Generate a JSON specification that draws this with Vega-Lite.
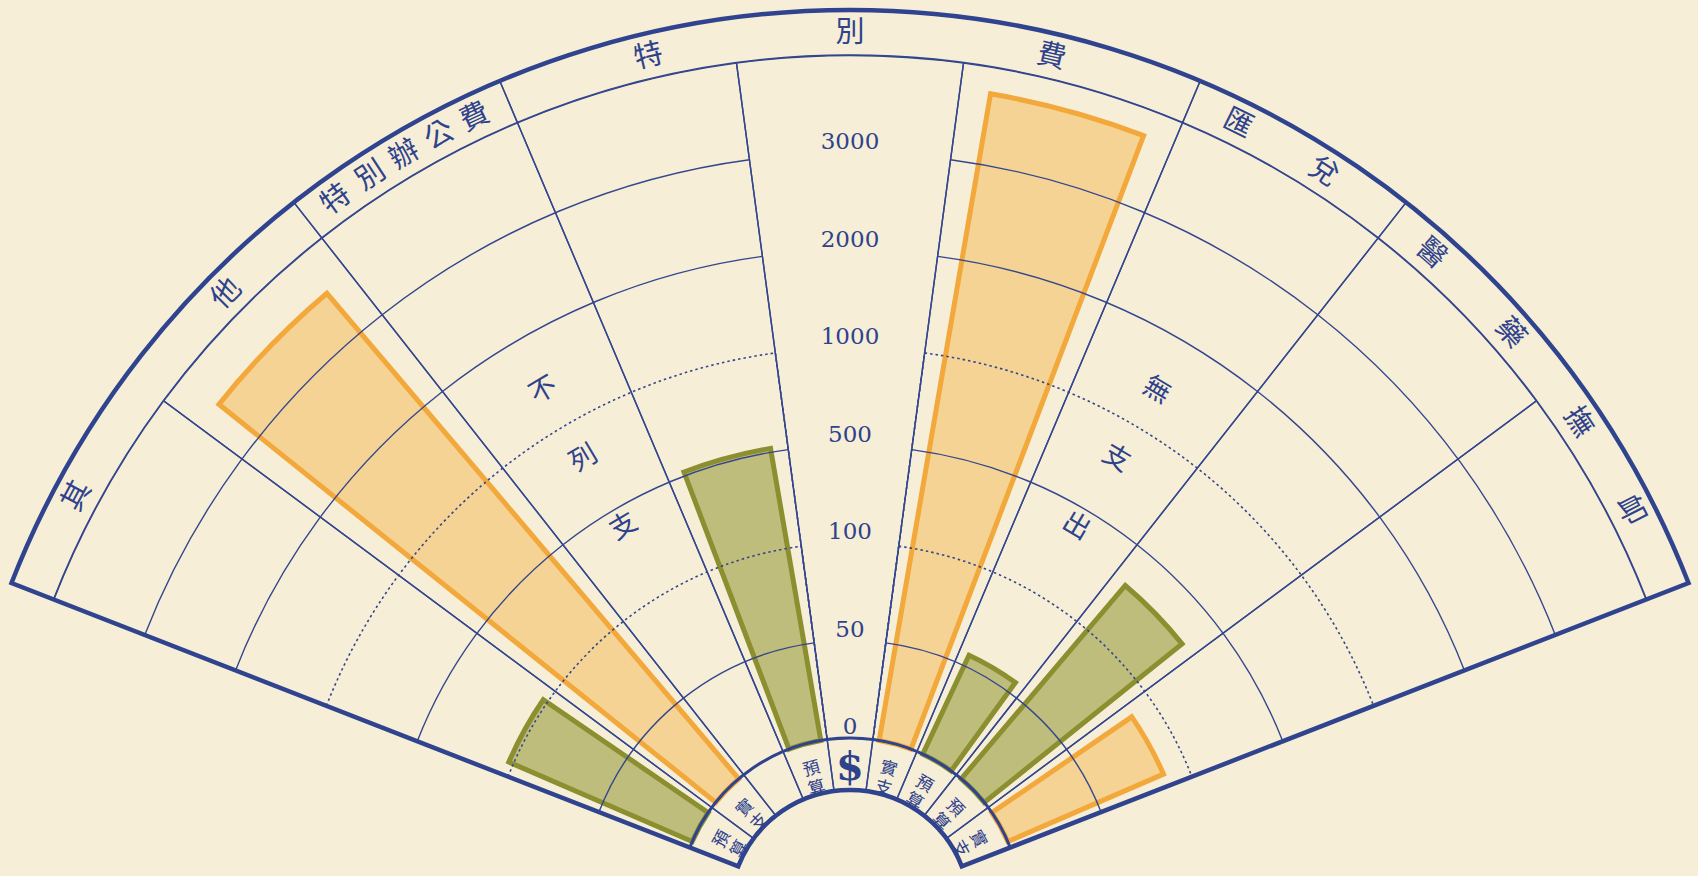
{
  "$schema": "https://vega.github.io/schema/vega-lite/v6.json",
  "width": 1698,
  "height": 876,
  "padding": 0,
  "autosize": {"type": "none"},
  "background": "#f6eed7",
  "config": {"view": {"stroke": null}},
  "params": [{"name": "cx", "value": 850}, {"name": "cy", "value": 910}],
  "datasets": {
    "bars": [
      {"category": "其他", "kind": "預算", "col": 0, "value": 120},
      {"category": "其他", "kind": "實支", "col": 1, "value": 3530},
      {"category": "特別費", "kind": "預算", "col": 3, "value": 520},
      {"category": "特別費", "kind": "實支", "col": 5, "value": 3730},
      {"category": "匯兌", "kind": "預算", "col": 6, "value": 56},
      {"category": "醫藥撫卹", "kind": "預算", "col": 7, "value": 340},
      {"category": "醫藥撫卹", "kind": "實支", "col": 8, "value": 87}
    ],
    "columns": [
      {"col": 0, "cell": ["預", "算"]},
      {"col": 1, "cell": ["實", "支"]},
      {"col": 2, "cell": ""},
      {"col": 3, "cell": ["預", "算"]},
      {"col": 4, "cell": "$"},
      {"col": 5, "cell": ["實", "支"]},
      {"col": 6, "cell": ["預", "算"]},
      {"col": 7, "cell": ["預", "算"]},
      {"col": 8, "cell": ["實", "支"]}
    ],
    "rings": [
      {"value": 50, "side": "L"},
      {"value": 50, "side": "R"},
      {"value": 100, "side": "L"},
      {"value": 100, "side": "R"},
      {"value": 500, "side": "L"},
      {"value": 500, "side": "R"},
      {"value": 1000, "side": "L"},
      {"value": 1000, "side": "R"},
      {"value": 2000, "side": "L"},
      {"value": 2000, "side": "R"},
      {"value": 3000, "side": "L"},
      {"value": 3000, "side": "R"}
    ],
    "ticks": [
      {"tick": 0}, {"tick": 50}, {"tick": 100}, {"tick": 500},
      {"tick": 1000}, {"tick": 2000}, {"tick": 3000}
    ],
    "groups": [
      {"group": "其他", "from": 0, "to": 2},
      {"group": "特別辦公費", "from": 2, "to": 3},
      {"group": "特別費", "from": 3, "to": 6},
      {"group": "匯兌", "from": 6, "to": 7},
      {"group": "醫藥撫卹", "from": 7, "to": 9}
    ],
    "headers": [
      {"group": "其他", "ch": "其", "at": 0.45},
      {"group": "其他", "ch": "他", "at": 1.53},
      {"group": "特別辦公費", "ch": "特", "at": 2.15},
      {"group": "特別辦公費", "ch": "別", "at": 2.33},
      {"group": "特別辦公費", "ch": "辦", "at": 2.5},
      {"group": "特別辦公費", "ch": "公", "at": 2.67},
      {"group": "特別辦公費", "ch": "費", "at": 2.84},
      {"group": "特別費", "ch": "特", "at": 3.63},
      {"group": "特別費", "ch": "別", "at": 4.5},
      {"group": "特別費", "ch": "費", "at": 5.37},
      {"group": "匯兌", "ch": "匯", "at": 6.22},
      {"group": "匯兌", "ch": "兌", "at": 6.64},
      {"group": "醫藥撫卹", "ch": "醫", "at": 7.22},
      {"group": "醫藥撫卹", "ch": "藥", "at": 7.7},
      {"group": "醫藥撫卹", "ch": "撫", "at": 8.18},
      {"group": "醫藥撫卹", "ch": "卹", "at": 8.62}
    ],
    "notes": [
      {"col": 2, "note": ["不", "列", "支"]},
      {"col": 6, "note": ["無", "支", "出"]}
    ]
  },
  "resolve": {"scale": {"theta": "independent", "angle": "independent"}},
  "layer": [
    {
      "data": {"name": "bars"},
      "mark": {"type": "arc", "x": {"expr": "cx"}, "y": {"expr": "cy"}, "strokeWidth": 5, "strokeJoin": "miter"},
      "encoding": {
        "theta": {"field": "col", "type": "ordinal", "scale": {"type": "band", "domain": [0, 1, 2, 3, 4, 5, 6, 7, 8], "range": [-1.199, 1.199], "paddingInner": 0.28, "paddingOuter": 0.14}},
        "radius": {"field": "value", "type": "quantitative", "scale": {"type": "linear", "domain": [0, 50, 100, 500, 1000, 2000, 3000, 4000], "range": [172, 269.5, 367, 464.5, 562, 659.5, 757, 854.5], "zero": false, "nice": false}},
        "radius2": {"datum": 0},
        "fill": {"field": "kind", "type": "nominal", "scale": {"domain": ["預算", "實支"], "range": ["#bfbd7b", "#f5d394"]}, "legend": null},
        "stroke": {"field": "kind", "type": "nominal", "scale": {"domain": ["預算", "實支"], "range": ["#8b8f30", "#f2a83a"]}, "legend": null}
      }
    },
    {
      "data": {"name": "columns"},
      "mark": {"type": "arc", "x": {"expr": "cx"}, "y": {"expr": "cy"}, "fill": "transparent", "stroke": "#34478e", "strokeWidth": 1.4},
      "encoding": {
        "theta": {"field": "col", "type": "ordinal", "scale": {"type": "band", "domain": [0, 1, 2, 3, 4, 5, 6, 7, 8], "range": [-1.199, 1.199], "paddingInner": 0, "paddingOuter": 0}},
        "radius": {"datum": 4000, "type": "quantitative", "scale": {"type": "linear", "domain": [0, 50, 100, 500, 1000, 2000, 3000, 4000], "range": [172, 269.5, 367, 464.5, 562, 659.5, 757, 854.5], "zero": false, "nice": false}},
        "radius2": {"datum": 0}
      }
    },
    {
      "data": {"name": "rings"},
      "transform": [{"filter": {"not": {"field": "value", "oneOf": [100, 1000]}}}],
      "mark": {"type": "arc", "x": {"expr": "cx"}, "y": {"expr": "cy"}, "fill": "transparent", "stroke": "#34478e", "strokeWidth": 1.4},
      "encoding": {
        "theta": {"field": "side", "type": "nominal", "scale": {"type": "band", "domain": ["L", "R"], "range": [-1.199, 1.199], "paddingInner": 0.2, "paddingOuter": 0}},
        "radius": {"field": "value", "type": "quantitative", "scale": {"type": "linear", "domain": [0, 50, 100, 500, 1000, 2000, 3000, 4000], "range": [172, 269.5, 367, 464.5, 562, 659.5, 757, 854.5], "zero": false, "nice": false}},
        "radius2": {"field": "value"}
      }
    },
    {
      "data": {"name": "rings"},
      "transform": [{"filter": {"field": "value", "oneOf": [100, 1000]}}],
      "mark": {"type": "arc", "x": {"expr": "cx"}, "y": {"expr": "cy"}, "fill": "transparent", "stroke": "#34478e", "strokeWidth": 1.6, "strokeDash": [2.5, 3]},
      "encoding": {
        "theta": {"field": "side", "type": "nominal", "scale": {"type": "band", "domain": ["L", "R"], "range": [-1.199, 1.199], "paddingInner": 0.2, "paddingOuter": 0}},
        "radius": {"field": "value", "type": "quantitative", "scale": {"type": "linear", "domain": [0, 50, 100, 500, 1000, 2000, 3000, 4000], "range": [172, 269.5, 367, 464.5, 562, 659.5, 757, 854.5], "zero": false, "nice": false}},
        "radius2": {"datum": 0}
      }
    },
    {
      "data": {"name": "groups"},
      "transform": [{"aggregate": [{"op": "min", "field": "from", "as": "from"}, {"op": "max", "field": "to", "as": "to"}]}],
      "mark": {"type": "arc", "x": {"expr": "cx"}, "y": {"expr": "cy"}, "radius": 121, "radius2": 0, "fill": "#f6eed7", "stroke": null},
      "encoding": {
        "theta": {"field": "from", "type": "quantitative", "stack": null, "scale": {"domain": [0, 9], "range": [-1.199, 1.199], "zero": false, "nice": false}},
        "theta2": {"field": "to"}
      }
    },
    {
      "data": {"name": "groups"},
      "mark": {"type": "arc", "x": {"expr": "cx"}, "y": {"expr": "cy"}, "radius": 900, "radius2": 855, "fill": "transparent", "stroke": "#34478e", "strokeWidth": 1.4},
      "encoding": {
        "theta": {"field": "from", "type": "quantitative", "stack": null, "scale": {"domain": [0, 9], "range": [-1.199, 1.199], "zero": false, "nice": false}},
        "theta2": {"field": "to"}
      }
    },
    {
      "data": {"name": "columns"},
      "mark": {"type": "arc", "x": {"expr": "cx"}, "y": {"expr": "cy"}, "radius": 172, "radius2": 120, "fill": "transparent", "stroke": "#34478e", "strokeWidth": 1.4},
      "encoding": {
        "theta": {"field": "col", "type": "ordinal", "scale": {"type": "band", "domain": [0, 1, 2, 3, 4, 5, 6, 7, 8], "range": [-1.199, 1.199], "paddingInner": 0, "paddingOuter": 0}}
      }
    },
    {
      "data": {"name": "groups"},
      "transform": [{"aggregate": [{"op": "min", "field": "from", "as": "from"}, {"op": "max", "field": "to", "as": "to"}]}],
      "mark": {"type": "arc", "x": {"expr": "cx"}, "y": {"expr": "cy"}, "radius": 900, "radius2": 120, "fill": "transparent", "stroke": "#2f438e", "strokeWidth": 4.5, "strokeJoin": "miter"},
      "encoding": {
        "theta": {"field": "from", "type": "quantitative", "stack": null, "scale": {"domain": [0, 9], "range": [-1.199, 1.199], "zero": false, "nice": false}},
        "theta2": {"field": "to"}
      }
    },
    {
      "data": {"name": "groups"},
      "transform": [{"aggregate": [{"op": "min", "field": "from", "as": "from"}, {"op": "max", "field": "to", "as": "to"}]}],
      "mark": {"type": "arc", "x": {"expr": "cx"}, "y": {"expr": "cy"}, "radius": 172, "radius2": 120, "fill": "transparent", "stroke": "#2f438e", "strokeWidth": 3},
      "encoding": {
        "theta": {"field": "from", "type": "quantitative", "stack": null, "scale": {"domain": [0, 9], "range": [-1.199, 1.199], "zero": false, "nice": false}},
        "theta2": {"field": "to"}
      }
    },
    {
      "data": {"name": "ticks"},
      "mark": {"type": "text", "x": {"expr": "cx"}, "y": {"expr": "cy"}, "radiusOffset": 4, "font": "DejaVu Serif", "fontSize": 23, "fill": "#2f428c", "align": "center", "baseline": "alphabetic"},
      "encoding": {
        "radius": {"field": "tick", "type": "quantitative", "scale": {"type": "linear", "domain": [0, 50, 100, 500, 1000, 2000, 3000, 4000], "range": [172, 269.5, 367, 464.5, 562, 659.5, 757, 854.5], "zero": false, "nice": false}},
        "text": {"field": "tick", "type": "nominal"}
      }
    },
    {
      "data": {"name": "columns"},
      "transform": [{"filter": "isArray(datum.cell)"}],
      "mark": {"type": "text", "x": {"expr": "cx"}, "y": {"expr": "cy"}, "radius": 146, "font": "Noto Sans CJK TC", "fontSize": 17, "lineHeight": 20, "fill": "#2f428c", "align": "center", "baseline": "middle"},
      "encoding": {
        "theta": {"field": "col", "type": "ordinal", "bandPosition": 0.5, "scale": {"type": "band", "domain": [0, 1, 2, 3, 4, 5, 6, 7, 8], "range": [-1.199, 1.199], "paddingInner": 0, "paddingOuter": 0}},
        "angle": {"field": "col", "type": "quantitative", "scale": {"domain": [0, 8], "range": [-61.07, 61.07], "zero": false, "nice": false}, "legend": null},
        "text": {"field": "cell", "type": "nominal"}
      }
    },
    {
      "data": {"name": "columns"},
      "transform": [{"filter": "datum.cell === '$'"}],
      "mark": {"type": "text", "x": {"expr": "cx"}, "y": {"expr": "cy"}, "radius": 142, "font": "DejaVu Serif", "fontWeight": "bold", "fontSize": 40, "fill": "#2f428c", "align": "center", "baseline": "middle"},
      "encoding": {
        "theta": {"field": "col", "type": "ordinal", "bandPosition": 0.5, "scale": {"type": "band", "domain": [0, 1, 2, 3, 4, 5, 6, 7, 8], "range": [-1.199, 1.199], "paddingInner": 0, "paddingOuter": 0}},
        "text": {"field": "cell", "type": "nominal"}
      }
    },
    {
      "data": {"name": "notes"},
      "mark": {"type": "text", "x": {"expr": "cx"}, "y": {"expr": "cy"}, "radius": 603, "font": "Noto Sans CJK TC", "fontSize": 27, "lineHeight": 79, "fill": "#2f428c", "align": "center", "baseline": "middle"},
      "encoding": {
        "theta": {"field": "col", "type": "ordinal", "bandPosition": 0.5, "scale": {"type": "band", "domain": [0, 1, 2, 3, 4, 5, 6, 7, 8], "range": [-1.199, 1.199], "paddingInner": 0, "paddingOuter": 0}},
        "angle": {"field": "col", "type": "quantitative", "scale": {"domain": [0, 8], "range": [-61.07, 61.07], "zero": false, "nice": false}, "legend": null},
        "text": {"field": "note", "type": "nominal"}
      }
    },
    {
      "data": {"name": "headers"},
      "mark": {"type": "text", "x": {"expr": "cx"}, "y": {"expr": "cy"}, "radius": 877, "font": "Noto Sans CJK TC", "fontSize": 29, "fill": "#2f428c", "align": "center", "baseline": "middle"},
      "encoding": {
        "theta": {"field": "at", "type": "quantitative", "stack": null, "scale": {"domain": [0, 9], "range": [-1.199, 1.199], "zero": false, "nice": false}},
        "angle": {"field": "at", "type": "quantitative", "scale": {"domain": [0, 9], "range": [-68.7, 68.7], "zero": false, "nice": false}, "legend": null},
        "text": {"field": "ch", "type": "nominal"}
      }
    }
  ]
}
